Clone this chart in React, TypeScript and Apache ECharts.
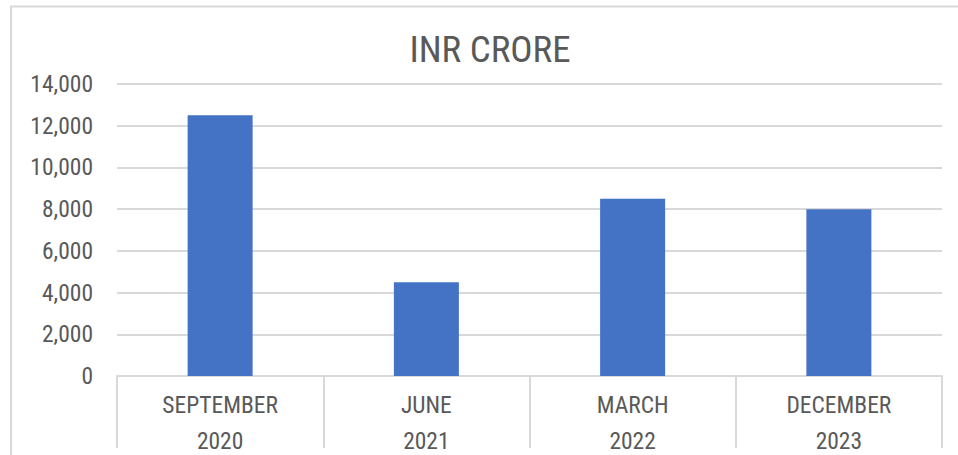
import React, { useEffect, useRef } from "react";
import * as echarts from "echarts";

const titleText = "INR CRORE";
const months = ["SEPTEMBER", "JUNE", "MARCH", "DECEMBER"];
const years = ["2020", "2021", "2022", "2023"];
const values = [12500, 4500, 8500, 8000];
const yMin = 0;
const yMax = 14000;
const yInterval = 2000;

const FONT = '"Roboto Condensed", "Liberation Sans", Arial, sans-serif';
const TEXT = "#595959";
const GRID = "#d9d9d9";

export default function App() {
  const ref = useRef<HTMLDivElement>(null);
  useEffect(() => {
    if (!ref.current) return;
    const chart = echarts.init(ref.current, null, { renderer: "svg" });
    const categories = months.map((m, i) => `${m}\n${years[i]}`);
    chart.setOption({
      animation: false,
      backgroundColor: "#ffffff",
      title: {
        text: titleText,
        left: 490,
        top: 31,
        padding: 0,
        textAlign: "center",
        textStyle: { fontFamily: FONT, fontSize: 37, fontWeight: "normal", color: TEXT },
      },
      graphic: [
        {
          type: "rect",
          shape: { x: 11, y: 6.5, width: 1000, height: 500 },
          style: { fill: "none", stroke: GRID, lineWidth: 2 },
          silent: true,
          z: -1,
        },
      ],
      grid: { left: 117, right: 16, top: 84, bottom: 79, containLabel: false, outerBoundsMode: "none" },
      xAxis: {
        type: "category",
        data: categories,
        boundaryGap: true,
        axisLine: { show: true, lineStyle: { color: GRID, width: 2 } },
        axisTick: { show: true, interval: 0, length: 72, lineStyle: { color: GRID, width: 2 } },
        axisLabel: {
          interval: 0,
          margin: 11,
          fontFamily: FONT,
          fontSize: 23.5,
          color: TEXT,
          lineHeight: 36,
        },
      },
      yAxis: {
        type: "value",
        min: yMin,
        max: yMax,
        interval: yInterval,
        axisLine: { show: false },
        axisTick: { show: false },
        splitLine: { show: true, lineStyle: { color: GRID, width: 2 } },
        axisLabel: {
          margin: 24,
          fontFamily: FONT,
          fontSize: 23.5,
          color: TEXT,
          padding: [14, 0, 0, 0],
          formatter: (v: number) => v.toLocaleString("en-US"),
        },
      },
      series: [
        {
          type: "bar",
          data: values,
          barWidth: 65,
          itemStyle: { color: "#4472c4" },
        },
      ],
    });
    return () => chart.dispose();
  }, []);
  return <div ref={ref} style={{ position: "absolute", left: 0, top: 0, width: 958, height: 455 }} />;
}
